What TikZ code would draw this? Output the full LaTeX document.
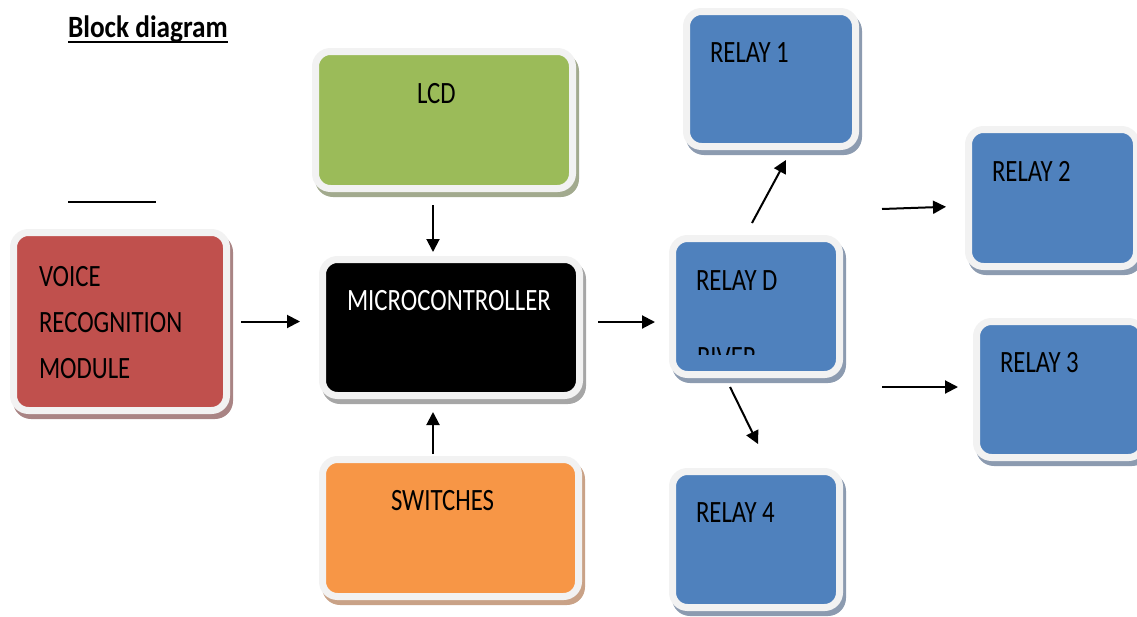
\documentclass[tikz,border=0pt]{standalone}
\usepackage{fontspec}
\setmainfont{Carlito}[FakeStretch=0.8, BoldFeatures={FakeStretch=0.88}]
\usetikzlibrary{arrows.meta,backgrounds}

\definecolor{ringgray}{HTML}{F2F2F2}
\definecolor{lcdfill}{HTML}{9BBB59}
\definecolor{lcdshade}{HTML}{A2AA8E}
\definecolor{voicefill}{HTML}{C0504D}
\definecolor{voiceshade}{HTML}{A98484}
\definecolor{mcushade}{HTML}{A6A6A6}
\definecolor{swfill}{HTML}{F79646}
\definecolor{swshade}{HTML}{C9A287}
\definecolor{relayfill}{HTML}{4F81BD}
\definecolor{relayshade}{HTML}{8C9BB0}

\begin{document}
\begin{tikzpicture}[x=1pt,y=-1pt,
  blk/.style={draw=ringgray, line width=7pt, rounded corners=15pt,
    inner sep=0pt, outer sep=0pt, anchor=north west, shape=rectangle},
  lbl/.style={inner sep=0pt, outer sep=0pt, anchor=base west,
    font=\fontsize{31}{36}\selectfont, text=black},
  arr/.style={line width=2pt, -{Triangle[length=13pt,width=13pt]}},
  shade/.style={rounded corners=18pt}
]
\useasboundingbox (0,0) rectangle (1137,616);

% heading
\node[lbl, font=\fontsize{31}{36}\selectfont\bfseries] (title) at (68,37) {Block diagram};
\draw[line width=2pt] ([yshift=-5pt]title.base west) -- ([yshift=-5pt]title.base east);
\coordinate (rule0) at (68,202);
\coordinate (rule1) at (156,202);
\draw[line width=1.8pt] (rule0) -- (rule1);

% blocks
\node[blk, fill=lcdfill, minimum width=257pt, minimum height=137pt] (lcd) at (315.5,51.5) {};
\node[blk, fill=voicefill, minimum width=213pt, minimum height=178pt] (voice) at (13.5,232.5) {};
\node[blk, fill=black, minimum width=257pt, minimum height=136pt] (mcu) at (322.5,259.5) {};
\node[blk, fill=swfill, minimum width=256pt, minimum height=137pt] (sw) at (322.5,459.5) {};
\node[blk, fill=relayfill, minimum width=169pt, minimum height=135pt] (relay1) at (686.5,11.5) {};
\node[blk, fill=relayfill, minimum width=168pt, minimum height=137pt] (relay2) at (968.5,129.5) {};
\node[blk, fill=relayfill, minimum width=167pt, minimum height=136pt] (relayd) at (672.5,238.5) {};
\node[blk, fill=relayfill, minimum width=167pt, minimum height=136pt] (relay3) at (976.5,321.5) {};
\node[blk, fill=relayfill, minimum width=167pt, minimum height=136pt] (relay4) at (672.5,471.5) {};

% drop shadows behind the blocks
\begin{scope}[on background layer]
  \foreach \n/\c in {lcd/lcdshade, voice/voiceshade, mcu/mcushade, sw/swshade,
                     relay1/relayshade, relay2/relayshade, relayd/relayshade,
                     relay3/relayshade, relay4/relayshade}{
    \fill[shade, \c] ([shift={(-0.5,1.5)}]\n.north west) rectangle ([shift={(6.5,8.5)}]\n.south east);
  }
\end{scope}

% block texts
\node[lbl] (tlcd) at (417,103) {LCD};
\node[lbl] (tvoice1) at (39,286) {VOICE};
\node[lbl] (tvoice2) at (39,332) {RECOGNITION};
\node[lbl] (tvoice3) at (39,378) {MODULE};
\node[lbl, text=white] (tmcu) at (347,310) {MICROCONTROLLER};
\node[lbl] (tsw) at (391,510) {SWITCHES};
\node[lbl] (tr1) at (710,62) {RELAY 1};
\node[lbl] (tr2) at (992,181) {RELAY 2};
\node[lbl] (trd) at (696,290) {RELAY D};
\begin{scope}
  \clip (676,300) rectangle (836,354);
  \node[lbl] (trd2) at (697,367) {RIVER};
\end{scope}
\node[lbl] (tr3) at (1000,372) {RELAY 3};
\node[lbl] (tr4) at (696,522) {RELAY 4};

% connectors
\draw[arr, shorten <=14.5pt, shorten >=22.5pt] (voice.east) -- (voice.east -| mcu.west);
\draw[arr, shorten <=16.5pt, shorten >=7.5pt] ([xshift=-11pt]lcd.south) -- ([xshift=-11pt]lcd.south |- mcu.north);
\draw[arr, shorten <=5.5pt, shorten >=16.5pt] ([xshift=-17.5pt]sw.north) -- ([xshift=-17.5pt]sw.north |- mcu.south);
\draw[arr, shorten <=18.5pt, shorten >=17.5pt] ([yshift=5.5pt]mcu.east) -- ([yshift=5.5pt]mcu.east -| relayd.west);
\draw[arr, shorten <=17.6pt, shorten >=15.3pt] ([xshift=-12.4pt]relayd.north) -- ([xshift=22.3pt]relay1.south);
\draw[arr, shorten <=13.9pt, shorten >=30.6pt] ([xshift=-32.1pt]relayd.south) -- ([xshift=15.5pt]relay4.north);
\coordinate (d2) at (882,209);
\coordinate (d3) at (882,387);
\draw[arr, shorten >=22.5pt] (d2) -- ([yshift=-8pt]relay2.west);
\draw[arr, shorten >=18.5pt] (d3) -- ([yshift=2.5pt]relay3.west);
\end{tikzpicture}
\end{document}
